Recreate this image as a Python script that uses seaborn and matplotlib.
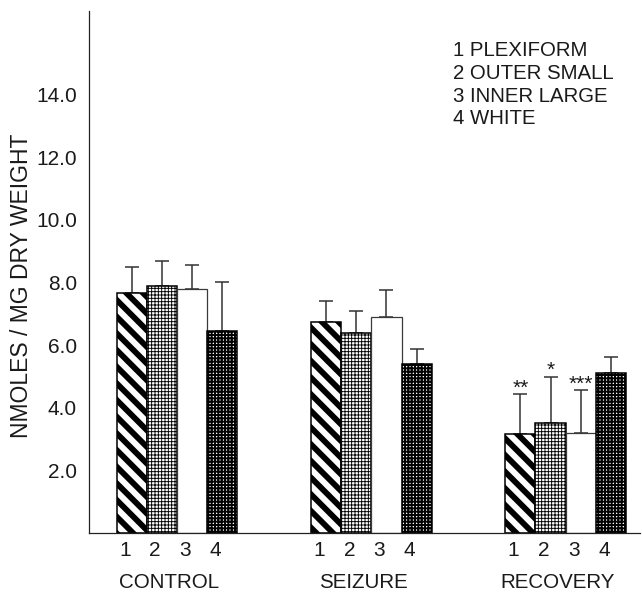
import matplotlib
matplotlib.use("Agg")
import matplotlib as mpl
import matplotlib.pyplot as plt
import matplotlib.transforms as mtransforms
import numpy as np
import pandas as pd
import seaborn as sns

# ---------------- data ----------------
conditions = ["CONTROL", "SEIZURE", "RECOVERY"]
layer_ids = ["1", "2", "3", "4"]
layer_names = ["PLEXIFORM", "OUTER SMALL", "INNER LARGE", "WHITE"]

control_means = [7.65, 7.88, 7.80, 6.44]
seizure_means = [6.75, 6.39, 6.90, 5.38]
recovery_means = [3.16, 3.51, 3.19, 5.10]

control_err = [0.83, 0.81, 0.75, 1.56]
seizure_err = [0.66, 0.69, 0.86, 0.48]
recovery_err = [1.27, 1.48, 1.37, 0.51]

recovery_marks = ["**", "*", "***", ""]

y_ticks = [2, 4, 6, 8, 10, 12, 14]
y_tick_labels = ["2.0", "4.0", "6.0", "8.0", "10.0", "12.0", "14.0"]
y_label = "NMOLES / MG DRY WEIGHT"

means_by_cond = [control_means, seizure_means, recovery_means]
errs_by_cond = [control_err, seizure_err, recovery_err]
marks_by_cond = [["", "", "", ""], ["", "", "", ""], recovery_marks]

rows = []
for c, ms, es in zip(conditions, means_by_cond, errs_by_cond):
    for l, m, e in zip(layer_ids, ms, es):
        rows.append({"condition": c, "layer": l, "value": m, "err": e})
df = pd.DataFrame(rows)

# ---------------- style ----------------
sns.set_theme(style="white")
plt.rcParams["font.family"] = ["Liberation Sans", "DejaVu Sans"]
plt.rcParams["text.color"] = "#1a1a1a"

W, H = 642, 593
fig = plt.figure(figsize=(W / 100, H / 100), dpi=100)
ax_left, ax_right, ax_top, ax_bot = 89.3, 640.0, 10.7, 533.0
ax = fig.add_axes([ax_left / W, (H - ax_bot) / H,
                   (ax_right - ax_left) / W, (ax_bot - ax_top) / H])

sns.barplot(data=df, x="condition", y="value", hue="layer",
            order=conditions, hue_order=layer_ids,
            palette=["white"] * 4, saturation=1, width=0.621,
            edgecolor="black", linewidth=1.1, errorbar=None,
            legend=False, ax=ax)

hatches = ["\\\\", "+++++", None, "+++++"]
hatch_lws = [4.2, 0.65, 1.0, 1.4]


def set_hatch_lw(patch, lw):
    if hasattr(patch, "set_hatch_linewidth"):
        patch.set_hatch_linewidth(lw)
    orig = patch.draw

    def draw(renderer, _orig=orig, _lw=lw):
        with mpl.rc_context({"hatch.linewidth": _lw}):
            _orig(renderer)
    patch.draw = draw


bar_containers = list(ax.containers)
centers = []
for i, cont in enumerate(bar_containers):
    for j, bar in enumerate(cont):
        if hatches[i]:
            bar.set_hatch(hatches[i])
            bar.set_edgecolor("black")
            bar.set_linewidth(1.1)
            set_hatch_lw(bar, hatch_lws[i])
        else:
            bar.set_edgecolor("#3a3a3a")
            bar.set_linewidth(0.9)
        cx = bar.get_x() + bar.get_width() / 2
        top = bar.get_height()
        err = errs_by_cond[j][i]
        centers.append(cx)
        ax.errorbar([cx], [top], yerr=[[0], [err]], fmt="none",
                    ecolor="#333333", elinewidth=1.1, capsize=4.7,
                    capthick=1.1, zorder=0.9)
        mark = marks_by_cond[j][i]
        if mark:
            ax.annotate(mark, xy=(cx, top + err), xytext=(0, 0.5),
                        textcoords="offset points", ha="center",
                        va="baseline", fontsize=15, color="#1a1a1a")

# axes range
ax.set_xlim(-0.452, 2.383)
ax.set_ylim(0, 16.67)

# spines
for s in ["top", "right"]:
    ax.spines[s].set_visible(False)
for s in ["left", "bottom"]:
    ax.spines[s].set_color("#222222")
    ax.spines[s].set_linewidth(0.9)

# y axis
ax.set_yticks(y_ticks, labels=y_tick_labels)
ax.tick_params(axis="y", length=0, pad=9, labelsize=15, labelcolor="#1a1a1a")
ax.set_ylabel(y_label, fontsize=16.5, color="#1a1a1a", va="center")
ax.yaxis.set_label_coords((22 - ax_left) / (ax_right - ax_left),
                          (ax_bot - 286) / (ax_bot - ax_top))

# x axis: layer numbers under bars, condition names under groups
centers = sorted(centers)
ax.set_xticks(np.array(centers) - 0.036,
              labels=[layer_ids[k % 4] for k in range(len(centers))])
ax.tick_params(axis="x", length=0, pad=6, labelsize=15, labelcolor="#1a1a1a")
ax.set_xlabel("")

trans = mtransforms.blended_transform_factory(ax.transData, ax.transAxes)
for g, name in enumerate(conditions):
    ax.text(g - 0.04, -(582 - ax_bot) / (ax_bot - ax_top), name,
            transform=trans, ha="center", va="center", fontsize=14.8,
            color="#1a1a1a")

# key text
base0 = 56.4
for k, (lid, nm) in enumerate(zip(layer_ids, layer_names)):
    fig.text(452.7 / W, 1 - (base0 + 22.6 * k) / H, f"{lid} {nm}",
             fontsize=14.7, va="baseline", ha="left", color="#1a1a1a")

fig.savefig("out.png", dpi=100)
